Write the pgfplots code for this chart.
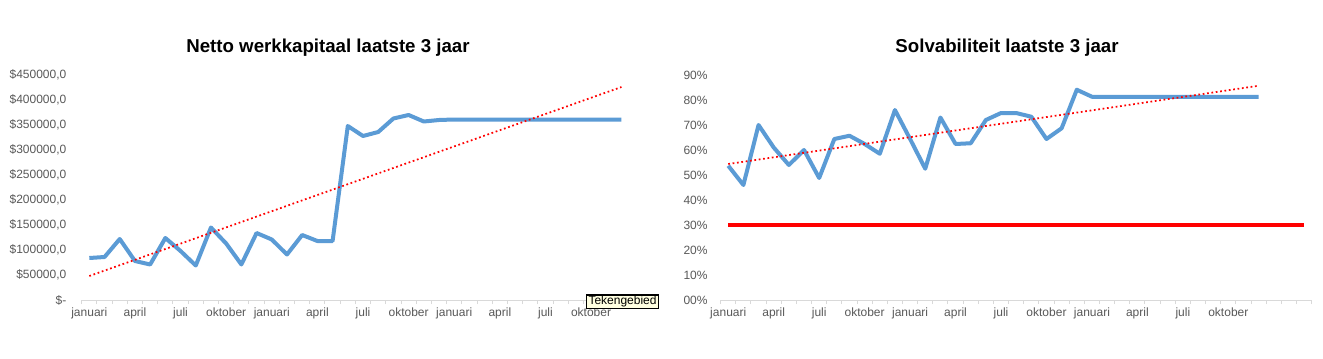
\documentclass[border=0pt]{standalone}
\usepackage{pgfplots}
\pgfplotsset{compat=1.18}
\usepackage{fontspec}
\setmainfont{Liberation Sans}
\definecolor{xlblue}{HTML}{5B9BD5}
\definecolor{xlgray}{HTML}{595959}
\definecolor{xlaxis}{HTML}{D9D9D9}
\definecolor{tipfill}{HTML}{FFFFE1}

\pgfplotstableread{
x y
0 84000
1 86000
2 122000
3 78000
4 71000
5 124000
6 98000
7 69000
8 145000
9 113000
10 71000
11 134000
12 121000
13 91000
14 130000
15 118000
16 118000
17 348000
18 328000
19 336000
20 363000
21 370000
22 357000
23 360000
24 361000
25 361000
26 361000
27 361000
28 361000
29 361000
30 361000
31 361000
32 361000
33 361000
34 361000
35 361000
}\werk

\pgfplotstableread{
x y
0 53.7
1 46
2 70
3 61
4 54
5 60
6 48.8
7 64.4
8 65.7
9 62.4
10 58.5
11 76
12 64.4
13 52.5
14 73
15 62.4
16 62.7
17 72
18 74.8
19 74.8
20 73.3
21 64.4
22 68.7
23 84.1
24 81.3
25 81.3
26 81.3
27 81.3
28 81.3
29 81.3
30 81.3
31 81.3
32 81.3
33 81.3
34 81.3
35 81.3
}\solv

\pgfplotsset{
  xlstyle/.style={
    scale only axis,
    height=168.75pt,
    axis lines*=left,
    y axis line style={draw=none},
    x axis line style={draw=xlaxis, line width=0.75pt},
    tick align=outside,
    major tick length=0pt,
    minor tick length=3pt,
    minor tick style={draw=xlaxis, line width=0.75pt},
    ymin=0,
    xtick={0,3,...,33},
    xticklabels={januari,april,juli,oktober,januari,april,juli,oktober,januari,april,juli,oktober},
    ticklabel style={font=\fontsize{9}{10}\selectfont, text=xlgray},
    xticklabel style={yshift=-2.5pt},
    scaled y ticks=false,
    clip=false,
  }
}

\begin{document}
\begin{tikzpicture}
\path[use as bounding box, fill=white] (0,0) rectangle (992.25pt,268.5pt);

% Left chart
\begin{axis}[xlstyle,
  at={(61.3pt,43.5pt)}, anchor=south west,
  width=410.5pt,
  xmin=-0.5, xmax=35.5,
  minor xtick={-0.5,0.5,...,35.5},
  ymax=450000,
  ytick={0,50000,...,450000},
  yticklabels={{\$-},{\$50000,0},{\$100000,0},{\$150000,0},{\$200000,0},{\$250000,0},{\$300000,0},{\$350000,0},{\$400000,0},{\$450000,0}},
  yticklabel style={xshift=-8pt},
]
\addplot[xlblue, line width=3pt, line join=round] table[x=x,y=y] {\werk};
\addplot[red, dotted, line width=1.3pt] coordinates {(0,48000) (35,426000)};
\end{axis}

% Right chart
\begin{axis}[xlstyle,
  at={(540.5pt,43.5pt)}, anchor=south west,
  width=443.25pt,
  xmin=-0.5, xmax=38.5,
  minor xtick={-0.5,0.5,...,38.5},
  ymax=90,
  ytick={0,10,...,90},
  yticklabels={{00\%},{10\%},{20\%},{30\%},{40\%},{50\%},{60\%},{70\%},{80\%},{90\%}},
  yticklabel style={xshift=-6.3pt},
]
\addplot[xlblue, line width=3pt, line join=round] table[x=x,y=y] {\solv};
\addplot[red, dotted, line width=1.3pt] coordinates {(0,54.4) (35,85.7)};
\addplot[red, line width=2.5pt] coordinates {(0,30) (38,30)};
\end{axis}

\node[font=\fontsize{14}{16}\selectfont\bfseries] at (246pt,232.5pt) {Netto werkkapitaal laatste 3 jaar};
\node[font=\fontsize{14}{16}\selectfont\bfseries] at (755.25pt,232.5pt) {Solvabiliteit laatste 3 jaar};

\node[draw=black, line width=0.9pt, fill=tipfill, inner sep=0pt, minimum width=53.7pt, minimum height=10pt, font=\fontsize{9}{9}\selectfont] at (466.9pt,42.2pt) {Tekengebied};
\end{tikzpicture}
\end{document}
